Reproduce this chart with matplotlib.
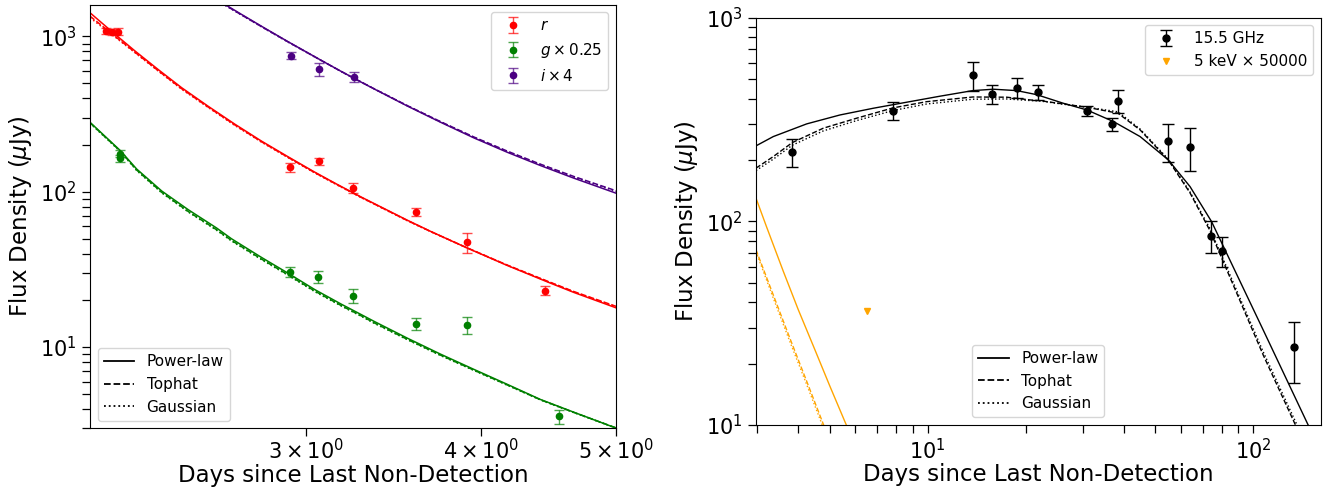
import matplotlib
matplotlib.use("Agg")
import matplotlib.pyplot as plt
from matplotlib.lines import Line2D

plt.rcParams['font.family'] = ['DejaVu Sans']
plt.rcParams['mathtext.fontset'] = 'dejavusans'

# ---------------- Left panel: optical data ----------------
r_t = [2.155, 2.178, 2.200, 2.919, 3.064, 3.242, 3.594, 3.91, 4.45]
r_f = [1090, 1065, 1075, 144, 157, 106, 74.3, 47.3, 23.1]
r_e = [50, 50, 50, 10, 9, 8, 4.5, 7, 1.5]

g_t = [2.205, 2.207, 2.919, 3.06, 3.242, 3.594, 3.91, 4.555]
g_f = [176, 164, 30.5, 28.4, 21.4, 14.1, 13.9, 3.59]
g_e = [9, 8, 2.1, 2.4, 2.1, 1.25, 1.75, 0.37]

i_t = [2.923, 3.064, 3.244]
i_f = [752, 618, 547]
i_e = [40, 60, 40]

# optical model curves
r_mt = [2.10, 2.189, 2.262, 2.351, 2.443, 2.553, 2.667, 2.786, 2.911, 3.041,
        3.160, 3.284, 3.545, 3.684, 3.908, 4.180, 4.464, 4.663, 5.00]
r_pl = [1420, 1030, 805, 610, 467, 354, 272, 212, 168, 134,
        111, 92.5, 65.5, 55.5, 43.6, 33.5, 26.3, 22.5, 17.9]
r_th = [1350, 1000, 790, 600, 460, 350, 269, 210, 166.5, 133,
        110.5, 92, 65.2, 55.4, 43.7, 33.7, 26.6, 22.8, 18.3]
r_ga = [1320, 990, 785, 597, 457, 348, 267, 209, 166, 132.5,
        110, 91.8, 65, 55.3, 43.6, 33.6, 26.5, 22.7, 18.2]

i_mt = [2.58, 2.70, 2.80, 2.911, 3.075, 3.178, 3.284, 3.357, 3.545, 3.746,
        3.956, 4.180, 4.414, 4.663, 5.00]
i_pl = [1757, 1375, 1133, 925, 701, 595, 508, 458, 356, 279.5,
        222, 179.4, 147.5, 122.4, 97.9]
i_th = [1740, 1365, 1127, 922, 700, 595, 509, 459, 358, 282,
        225, 182.5, 150.5, 125.5, 101.5]
i_ga = [1735, 1362, 1125, 920, 699, 594, 508, 459, 357.5, 281,
        224, 181.5, 149.5, 124.5, 100.5]

g_mt = [2.10, 2.207, 2.268, 2.364, 2.470, 2.587, 2.652, 2.786, 2.911, 3.041,
        3.178, 3.284, 3.357, 3.545, 3.746, 3.956, 4.180, 4.414, 4.663, 5.00]
g_pl = [280, 184.5, 140, 101, 76.5, 58.5, 49.8, 37.8, 29.9, 23.5,
        18.9, 16.2, 14.6, 11.4, 8.98, 7.18, 5.75, 4.6, 3.81, 3.01]
g_th = [278, 183, 138, 99, 74.5, 57, 48.6, 36.9, 29.2, 23.0,
        18.5, 15.9, 14.3, 11.2, 8.85, 7.1, 5.7, 4.58, 3.8, 3.02]
g_ga = [276, 182, 137, 98.3, 74, 56.6, 48.2, 36.6, 29.0, 22.8,
        18.4, 15.8, 14.2, 11.15, 8.8, 7.07, 5.68, 4.57, 3.79, 3.01]

# ---------------- Right panel: radio + X-ray ----------------
rad_t = [3.84, 7.82, 13.75, 15.79, 18.77, 21.77, 30.78, 36.74, 38.41,
         54.8, 63.9, 74.3, 80.0, 133.4]
rad_f = [220, 350, 522, 422.5, 453.6, 430.5, 348.6, 301, 391.5,
         247.6, 232.9, 85.2, 71.9, 24.05]
rad_e = [35, 35, 84, 47, 50, 37, 20, 22, 50, 52, 56, 15, 12, 8]

xr_t = [6.52]
xr_f = [36.1]

rad_pl_t = [2.97, 3.356, 4.25, 5.38, 6.81, 8.62, 10.9, 13.75, 15.9, 18.77,
            21.6, 26.1, 30.8, 37.2, 44.9, 54.8, 63.9, 74.4, 107.3,
            146.9, 155]
rad_pl = [234.8, 260.8, 301, 333, 359.3, 384.6, 411.6, 438.5, 445.5, 438.5,
          419, 380, 352.5, 309, 260.8, 200.4, 148.2, 99.8, 29.2,
          10.1, 8.5]

rad_th_t = [2.97, 3.356, 3.84, 4.78, 6.05, 7.82, 9.93, 13.75, 17.5, 20.6,
            22.1, 26.1, 30.8, 38.4, 44.9, 54.8, 63.9, 73.6, 84.8, 107.3,
            134.3, 145]
rad_th = [182.5, 208, 243.7, 286.7, 321, 360.6, 387, 408, 407, 394.8,
          391.5, 377, 363.4, 339.6, 281.2, 200, 138, 90, 53, 22,
          10.1, 7.8]
rad_ga = [177.6, 202, 236.6, 278, 312.5, 350, 377, 397.8, 399, 392,
          390, 376, 364, 345, 284, 202, 139.5, 92, 54.5, 22.8,
          10.5, 8.1]

xr_pl_t = [2.97, 3.2, 3.6, 4.0, 4.5, 5.0, 5.61, 6.0]
xr_pl = [130, 94, 57, 37, 23.5, 15.6, 10.1, 8.0]
xr_th_t = [2.97, 3.356, 3.776, 4.25, 4.78, 5.0]
xr_th = [72.5, 43.5, 26.6, 16.4, 10.1, 8.4]
xr_ga = [71, 42, 25.6, 15.8, 9.7, 8.1]

RED, GREEN, PURPLE, ORANGE = 'red', 'green', 'indigo', 'orange'

fig = plt.figure(figsize=(13.28, 4.88), dpi=100)
ax1 = fig.add_axes([90 / 1328, 1 - 428.3 / 488, 526 / 1328, 423.6 / 488])
ax2 = fig.add_axes([756 / 1328, 1 - 425 / 488, 564.7 / 1328, 407.3 / 488])

lw = 1.1
for t, pl, th, ga, c in [(r_mt, r_pl, r_th, r_ga, RED),
                         (g_mt, g_pl, g_th, g_ga, GREEN),
                         (i_mt, i_pl, i_th, i_ga, PURPLE)]:
    ax1.plot(t, pl, '-', color=c, lw=lw)
    ax1.plot(t, th, '--', color=c, lw=lw)
    ax1.plot(t, ga, ':', color=c, lw=lw)

h_data = []
for t, f, e, c, lab in [(r_t, r_f, r_e, RED, r'$r$'),
                        (g_t, g_f, g_e, GREEN, r'$g \times 0.25$'),
                        (i_t, i_f, i_e, PURPLE, r'$i \times 4$')]:
    eb = ax1.errorbar(t, f, yerr=e, fmt='o', color=c, ms=4.5, capsize=3.5,
                      elinewidth=1.0, capthick=1.0, label=lab)
    for part in list(eb[1]) + list(eb[2]):
        part.set_alpha(0.7)
    h_data.append(eb)

ax1.set_xscale('log')
ax1.set_yscale('log')
ax1.set_xlim(2.1, 5.0)
ax1.set_ylim(3, 1600)

# right panel
ax2.plot(rad_pl_t, rad_pl, '-', color='black', lw=1.0)
ax2.plot(rad_th_t, rad_th, '--', color='black', lw=1.0)
ax2.plot(rad_th_t, rad_ga, ':', color='black', lw=1.0)
ax2.plot(xr_pl_t, xr_pl, '-', color=ORANGE, lw=1.0)
ax2.plot(xr_th_t, xr_th, '--', color=ORANGE, lw=1.0)
ax2.plot(xr_th_t, xr_ga, ':', color=ORANGE, lw=1.0)

eb2 = ax2.errorbar(rad_t, rad_f, yerr=rad_e, fmt='o', color='black', ms=5,
                   capsize=4, elinewidth=1.0, capthick=1.0, label='15.5 GHz')
up, = ax2.plot(xr_t, xr_f, 'v', color=ORANGE, ms=5, linestyle='none',
               label='5 keV × 50000')

ax2.set_xscale('log')
ax2.set_yscale('log')
ax2.set_xlim(2.97, 161)
ax2.set_ylim(10, 1000)

style_handles = [Line2D([], [], color='black', ls='-', lw=1.3),
                 Line2D([], [], color='black', ls='--', lw=1.3),
                 Line2D([], [], color='black', ls=':', lw=1.3)]
style_labels = ['Power-law', 'Tophat', 'Gaussian']

leg1 = ax1.legend(handles=h_data, loc='upper right', fontsize=11)
ax1.add_artist(leg1)
ax1.legend(style_handles, style_labels, loc='lower left', fontsize=11)

leg2 = ax2.legend(handles=[eb2, up], loc='upper right', fontsize=11)
ax2.add_artist(leg2)
ax2.legend(style_handles, style_labels, loc='lower center', fontsize=11)

for ax in (ax1, ax2):
    ax.tick_params(which='both', direction='out', length=6, width=0.9,
                   labelsize=15)
    ax.set_ylabel(r'Flux Density ($\mu$Jy)', fontsize=16.5)

ax1.tick_params(axis='x', which='both', pad=0.8)
ax1.set_xlabel('Days since Last Non-Detection', fontsize=16.5, labelpad=1.0)
ax2.set_xlabel('Days since Last Non-Detection', fontsize=16.5, labelpad=0.0)

fig.savefig('out.png', dpi=100)
